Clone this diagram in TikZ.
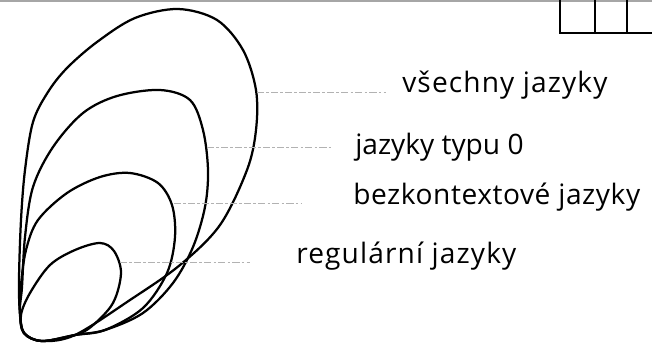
\documentclass[tikz,border=0pt]{standalone}
\usepackage{fontspec}
\setmainfont{Open Sans}[LetterSpace=4]
\usetikzlibrary{positioning}

\begin{document}
\begin{tikzpicture}[
    x=0.025cm, y=-0.025cm,
    class/.style={line width=1.6pt, line join=round},
    leader/.style={gray!60, line width=0.7pt, dash pattern=on 5pt off 1.5pt on 2pt off 1.5pt},
    label/.style={anchor=west, inner sep=0pt, font=\fontsize{20}{24}\selectfont},
    frame/.style={line width=1.4pt}
]
    \useasboundingbox (0,0) rectangle (652,345);

    % Sheet edge and boxes at the top
    \draw[frame, gray!70] (0,1) -- (652,1);
    \draw[frame] (560,0) -- (560,33) -- (652,33);
    \draw[frame] (595,0) -- (595,33);
    \draw[frame] (627,0) -- (627,33);

    % Nested language classes
    \draw[class] plot[smooth cycle, tension=0.55] coordinates {
        (20,315) (19,280) (21,220) (25,170) (33,122) (48,92) (67,68) (97,42)
        (135,18) (178,9) (217,20) (243,50) (256,90) (256,130) (247,170)
        (220,225) (180,265) (130,300) (75,335) (42,341) (24,333)};
    \draw[class] plot[smooth cycle, tension=0.55] coordinates {
        (20,310) (22,287) (25,237) (33,187) (53,147) (83,113) (117,96)
        (160,90) (190,100) (203,130) (208,170) (205,207) (193,247)
        (173,283) (143,313) (105,330) (75,335) (42,341) (24,333)};
    \draw[class] plot[smooth cycle, tension=0.55] coordinates {
        (20,312) (21,285) (26,250) (38,220) (67,193) (100,177) (130,173)
        (158,183) (172,205) (175,237) (167,273) (143,308) (105,330)
        (75,335) (42,341) (24,333)};
    \draw[class] plot[smooth cycle, tension=0.55] coordinates {
        (21,315) (30,293) (50,265) (75,250) (100,243) (114,251) (121,273)
        (113,303) (92,326) (75,335) (42,341) (24,333)};

    % Points where the leaders leave the curves
    \coordinate (allpt) at (257,92);
    \coordinate (zeropt) at (207,147);
    \coordinate (cfpt) at (174,203);
    \coordinate (regpt) at (120,262);

    % Labels
    \node[label] (all) at (402,85) {všechny jazyky};
    \node[label, font=\fontsize{20}{24}\selectfont\addfontfeatures{LetterSpace=0}] (zero) at (355,147) {jazyky typu 0};
    \node[label, font=\fontsize{20}{24}\selectfont\addfontfeatures{LetterSpace=2}] (cf) at (353,197) {bezkontextové jazyky};
    \node[label] (reg) at (296,256) {regulární jazyky};

    % Leaders
    \draw[leader] (allpt) -- ([xshift=-0.4cm]all.west |- allpt);
    \draw[leader] (zeropt) -- ([xshift=-0.6cm]zero.west |- zeropt);
    \draw[leader] (cfpt) -- ([xshift=-1.3cm]cf.west |- cfpt);
    \draw[leader] (regpt) -- ([xshift=-1.15cm]reg.west |- regpt);

\end{tikzpicture}
\end{document}
